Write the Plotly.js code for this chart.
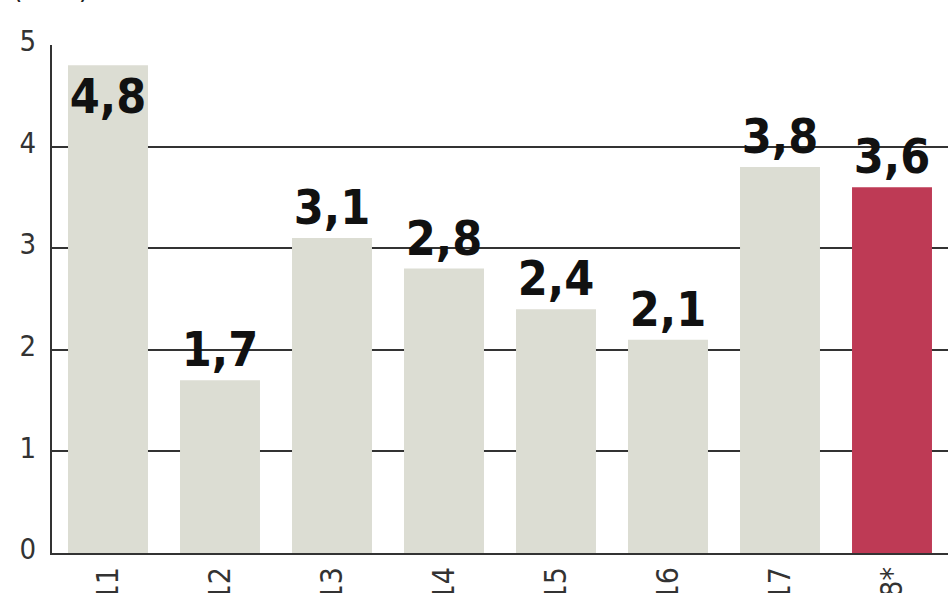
<!DOCTYPE html>
<html>
<head>
<meta charset="utf-8">
<script src="https://cdn.plot.ly/plotly-3.0.1.min.js"></script>
<style>html,body{margin:0;padding:0;background:#fff;}#chart{width:948px;height:593px;}</style>
</head>
<body>
<div id="chart"></div>
<script>
const categories = ["2011", "2012", "2013", "2014", "2015", "2016", "2017", "2018*"];
const values = [4.8, 1.7, 3.1, 2.8, 2.4, 2.1, 3.8, 3.6];
const yTicks = [0, 1, 2, 3, 4, 5];
const subtitle = "(w %)";

const grey = "#DCDDD3";
const red = "#BE3A55";
const colors = categories.map((c, i) => i === categories.length - 1 ? red : grey);
const labels = values.map(v => v.toFixed(1).replace(".", ","));
const positions = values.map(v => v >= 4.5 ? "inside" : "outside");

const font = "'DejaVu Sans Condensed', 'Liberation Sans Narrow', sans-serif";
const valueFont = {family: font, size: 48, weight: "bold", color: "#111"};

const trace = {
  type: "bar",
  x: categories,
  y: values,
  marker: {color: colors, line: {width: 0}},
  text: labels,
  textposition: positions,
  textangle: 0,
  insidetextanchor: "end",
  constraintext: "none",
  cliponaxis: false,
  textfont: valueFont,
  insidetextfont: valueFont,
  outsidetextfont: valueFont,
  hoverinfo: "none"
};

const layout = {
  width: 948,
  height: 593,
  margin: {l: 52, r: 0, t: 45, b: 40},
  paper_bgcolor: "#fff",
  plot_bgcolor: "#fff",
  showlegend: false,
  bargap: 0.286,
  xaxis: {
    type: "category",
    range: [-0.5, 7.5],
    tickangle: -90,
    showline: true,
    linecolor: "#333",
    linewidth: 2,
    showgrid: false,
    ticks: "",
    ticklabelstandoff: 0,
    tickfont: {family: font, size: 30, color: "#333"},
    fixedrange: true
  },
  yaxis: {
    range: [0, 5],
    tickvals: yTicks,
    ticktext: yTicks.map(String),
    showline: true,
    linecolor: "#333",
    linewidth: 2,
    showgrid: true,
    gridcolor: "#333",
    gridwidth: 2,
    zeroline: false,
    ticks: "",
    ticklabelstandoff: 8,
    ticklabelshift: -4,
    tickfont: {family: font, size: 29, color: "#333"},
    fixedrange: true
  },
  annotations: [{
    text: subtitle,
    xref: "paper", yref: "paper",
    x: 0, y: 1,
    xshift: -42, yshift: 38,
    xanchor: "left", yanchor: "bottom",
    showarrow: false,
    font: {family: font, size: 30, color: "#222"}
  }]
};

Plotly.newPlot("chart", [trace], layout, {displayModeBar: false, staticPlot: true});
</script>
</body>
</html>
